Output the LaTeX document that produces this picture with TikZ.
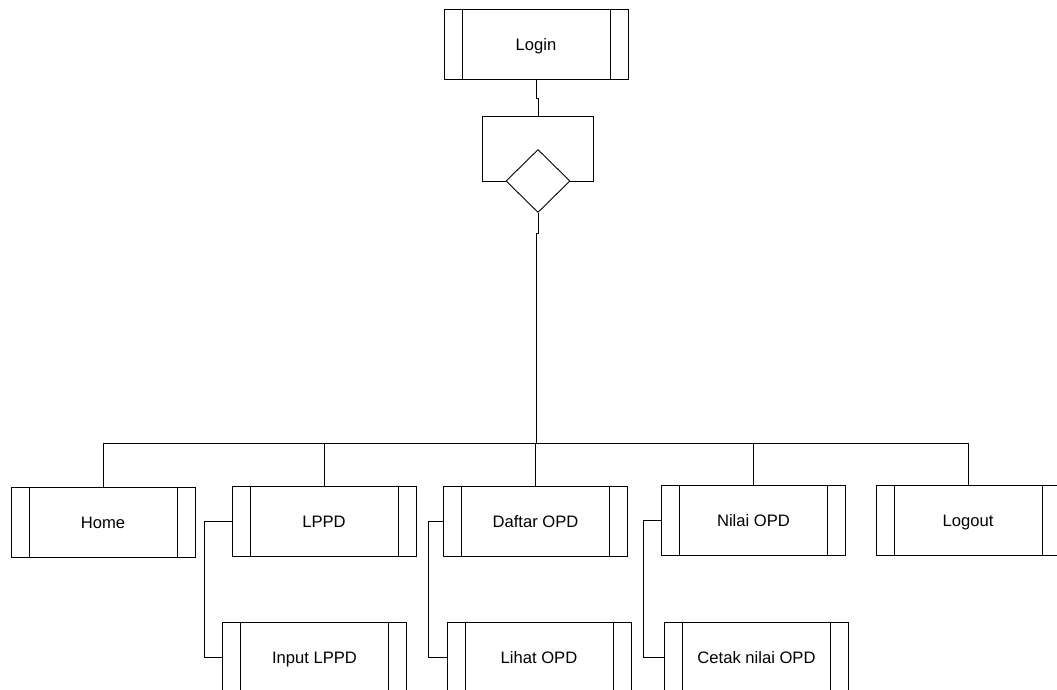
\documentclass[tikz,border=0pt]{standalone}
\usepackage{fontspec}
\setmainfont{Liberation Sans}
\usetikzlibrary{shapes.geometric}
\tikzset{
  proc/.style={draw, line width=0.9pt, minimum width=184pt, minimum height=70pt, inner sep=0pt,
    font=\fontsize{16.6}{19}\selectfont, text height=12pt, text depth=0pt,
    path picture={\draw[line width=0.9pt]
      ([xshift=18pt]path picture bounding box.north west) -- ([xshift=18pt]path picture bounding box.south west)
      ([xshift=-18pt]path picture bounding box.north east) -- ([xshift=-18pt]path picture bounding box.south east);}},
  dec/.style={draw, diamond, minimum width=64pt, minimum height=63pt, inner sep=0pt, line width=0.9pt},
  conn/.style={line width=0.9pt}
}
\begin{document}
\begin{tikzpicture}[x=1pt,y=-1pt]
\clip (0,0) rectangle (1057,689);
\fill[white] (0,0) rectangle (1057,689);
\node[proc] (login) at (536,44.5) {Login};
\node[dec] (dec) at (538,181) {};
\coordinate (ftl) at (482,116);
\coordinate (ftr) at (593,116);
\coordinate (ftop) at (538,116);
\draw[conn] (dec.west) -- (ftl |- dec.west) -- (ftl) -- (ftr) -- (ftr |- dec.east) -- (dec.east);
\draw[conn] (login.south) -- ++(0,18) -| (ftop);
\coordinate (bus) at (536,443);
\draw[conn] (dec.south) -- ++(0,20) -| (bus);

\node[proc] (home) at (103,522) {Home};
\node[proc] (lppd) at (324,521) {LPPD};
\node[proc] (daftar) at (535.5,521) {Daftar OPD};
\node[proc] (nilai) at (753.5,520) {Nilai OPD};
\node[proc] (logout) at (968,520) {Logout};

\node[proc] (input) at (314.5,657) {Input LPPD};
\node[proc] (lihat) at (539,657) {Lihat OPD};
\node[proc] (cetak) at (756.5,657) {Cetak nilai OPD};

\draw[conn] (home.north) -- (home.north |- bus) -- (logout.north |- bus) -- (logout.north);
\draw[conn] (lppd.north) -- (lppd.north |- bus);
\draw[conn] (daftar.north) -- (daftar.north |- bus);
\draw[conn] (nilai.north) -- (nilai.north |- bus);

\draw[conn] (lppd.west) -- ++(-27,0) |- (input.west);
\draw[conn] (daftar.west) -- ++(-14.5,0) |- (lihat.west);
\draw[conn] (nilai.west) -- ++(-17.5,0) |- (cetak.west);
\end{tikzpicture}
\end{document}
